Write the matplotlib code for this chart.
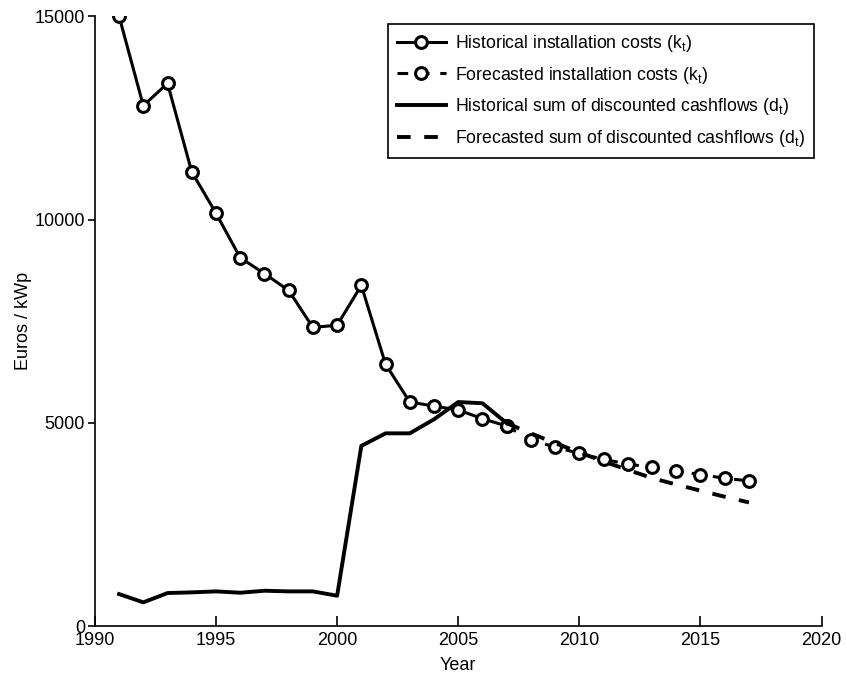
import matplotlib
matplotlib.use("Agg")
import matplotlib.pyplot as plt
import numpy as np

plt.rcParams['font.family'] = ['Liberation Sans', 'DejaVu Sans']
plt.rcParams['mathtext.fontset'] = 'custom'
plt.rcParams['mathtext.rm'] = 'Liberation Sans'
plt.rcParams['mathtext.it'] = 'Liberation Sans'

# installation costs (k_t), euros / kWp
hist_years = list(range(1991, 2008))
hist_k = [15000, 12800, 13350, 11170, 10155, 9060, 8670, 8255, 7345, 7400,
          8380, 6440, 5510, 5410, 5315, 5100, 4920]
fc_years = list(range(2007, 2018))
fc_k = [4920, 4570, 4405, 4245, 4100, 3985, 3900, 3815, 3725, 3635, 3570]

# sum of discounted cashflows (d_t)
hist_d = [786, 582, 811, 828, 852, 819, 868, 852, 852, 745,
          4430, 4740, 4740, 5085, 5510, 5480, 4990]
fc_d = [4990, 4740, 4500, 4270, 4050, 3840, 3640, 3480, 3330, 3180, 3040]

fig = plt.figure(figsize=(8.47, 6.77), dpi=100)
ax = fig.add_axes([0.112, 0.0753, 0.858, 0.9007])

lw = 2.2
ax.plot(hist_years, hist_k, '-o', color='black', lw=lw, markersize=8.5,
        markerfacecolor='white', markeredgewidth=2.2,
        label=r'Historical installation costs (k$_\mathrm{t}$)')
ax.plot(fc_years, fc_k, '--o', color='black', lw=lw, markersize=8.5,
        markerfacecolor='white', markeredgewidth=2.2, dashes=(3.5, 3.5),
        label=r'Forecasted installation costs (k$_\mathrm{t}$)')
ax.plot(hist_years, hist_d, '-', color='black', lw=lw + 0.6,
        label=r'Historical sum of discounted cashflows (d$_\mathrm{t}$)')
ax.plot(fc_years, fc_d, '--', color='black', lw=lw + 0.6, dashes=(3.5, 3.5),
        label=r'Forecasted sum of discounted cashflows (d$_\mathrm{t}$)')

ax.set_xlim(1990, 2020)
ax.set_ylim(0, 15000)
ax.set_xticks(np.arange(1990, 2021, 5))
ax.set_yticks([0, 5000, 10000, 15000])
ax.spines['top'].set_visible(False)
ax.spines['right'].set_visible(False)
ax.spines['left'].set_linewidth(1.2)
ax.spines['bottom'].set_linewidth(1.2)
ax.tick_params(axis='x', direction='in', length=7, width=1.2, labelsize=13, pad=4)
ax.tick_params(axis='y', direction='out', length=5, width=1.2, labelsize=13, pad=2)

ax.set_xlabel('Year', fontsize=13, labelpad=6)
ax.set_ylabel('Euros / kWp', fontsize=13, labelpad=2)

leg = ax.legend(loc='upper right', fontsize=12.7, frameon=True, fancybox=False,
                framealpha=1, edgecolor='black', handlelength=2.8,
                handletextpad=0.5, labelspacing=0.6, borderaxespad=0.45,
                borderpad=0.5)
leg.get_frame().set_linewidth(1.2)

fig.savefig('out.png', dpi=100)
